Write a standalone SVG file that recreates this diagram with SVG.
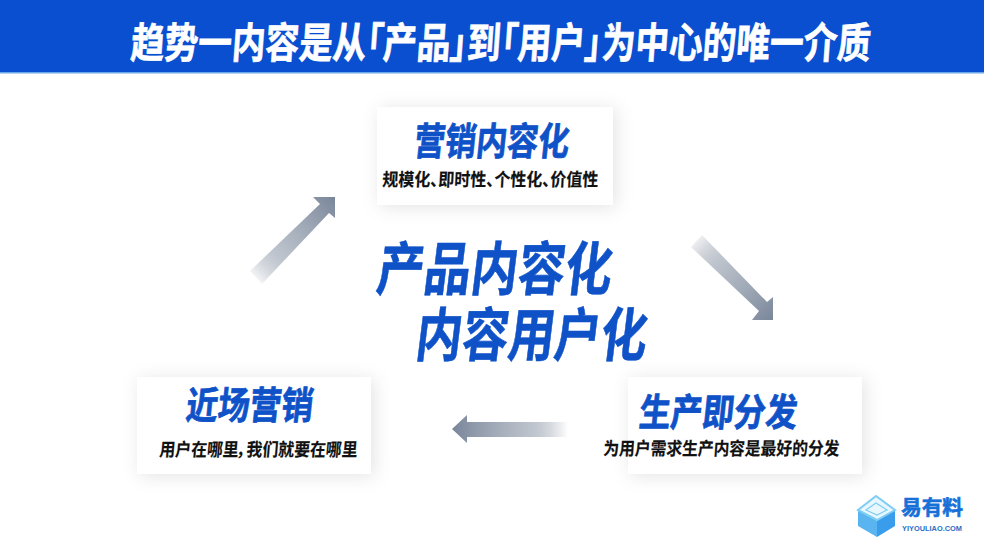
<svg xmlns="http://www.w3.org/2000/svg" width="984" height="554" viewBox="0 0 984 554">
<style>
text{font-family:"Noto Sans CJK SC","Noto Sans",sans-serif;font-weight:700;font-feature-settings:"palt"}
.h{fill:#0f52c8;stroke:#0f52c8}
.s{fill:#111;font-size:18px;stroke:#111;stroke-width:.15}
.t{font-size:38px;stroke-width:.8}
.c{font-size:58px;stroke-width:.6}
.card{fill:#fff;filter:url(#sh)}
</style>
<defs>
<filter id="sh" x="-20%" y="-30%" width="140%" height="160%"><feDropShadow dx="3" dy="2" stdDeviation="9" flood-color="#000" flood-opacity=".11"/></filter>
<linearGradient id="a1" gradientUnits="userSpaceOnUse" x1="252" y1="280" x2="335" y2="197"><stop offset="0" stop-color="#7b8799" stop-opacity="0"/><stop offset=".3" stop-color="#a9b1bd" stop-opacity=".75"/><stop offset="1" stop-color="#79869a"/></linearGradient>
<linearGradient id="a2" gradientUnits="userSpaceOnUse" x1="692" y1="236" x2="773" y2="320"><stop offset="0" stop-color="#7b8799" stop-opacity="0"/><stop offset=".3" stop-color="#a9b1bd" stop-opacity=".75"/><stop offset="1" stop-color="#79869a"/></linearGradient>
<linearGradient id="a3" gradientUnits="userSpaceOnUse" x1="568" y1="0" x2="452" y2="0"><stop offset="0" stop-color="#7b8799" stop-opacity="0"/><stop offset=".3" stop-color="#a9b1bd" stop-opacity=".75"/><stop offset="1" stop-color="#79869a"/></linearGradient>
</defs>
<rect width="984" height="554" fill="#fff"/>
<g id="header">
<rect width="984" height="72" fill="#0a4fd0"/>
<rect y="72" width="984" height="1.5" fill="#6aa8ea"/>
<text transform="translate(130,58) skewX(-4)" font-size="42" fill="#fff" stroke="#fff" stroke-width=".7" textLength="740" lengthAdjust="spacingAndGlyphs">趋势一内容是从「产品」到「用户」为中心的唯一介质</text>
</g>
<g id="connectors">
<polygon points="335,197 313,197 320,204 250,271 262,284 329,213 335,218" fill="url(#a1)"/>
<polygon points="773,320 752,320 759,311 691,247 702,235 767,302 773,297" fill="url(#a2)"/>
<polygon points="452,429 467,415 467,422 568,422 568,437 467,437 467,443" fill="url(#a3)"/>
</g>
<g id="node-top">
<rect class="card" x="377" y="107" width="236" height="98"/>
<text class="h t" transform="translate(413,155) skewX(-6)" textLength="155" lengthAdjust="spacingAndGlyphs">营销内容化</text>
<text class="s" transform="translate(382,186) skewX(-3)" textLength="216" lengthAdjust="spacingAndGlyphs">规模化、即时性、个性化、价值性</text>
</g>
<g id="node-left">
<rect class="card" x="137" y="377" width="234" height="97"/>
<text class="h t" transform="translate(185,419) skewX(-6)" textLength="127" lengthAdjust="spacingAndGlyphs">近场营销</text>
<text class="s" transform="translate(159,456) skewX(-5)" textLength="198" lengthAdjust="spacingAndGlyphs">用户在哪里，我们就要在哪里</text>
</g>
<g id="node-right">
<rect class="card" x="628" y="377" width="234" height="97"/>
<text class="h t" transform="translate(638,426) skewX(-6)" textLength="158" lengthAdjust="spacingAndGlyphs">生产即分发</text>
<text class="s" transform="translate(603,455) skewX(-4)" textLength="236" lengthAdjust="spacingAndGlyphs">为用户需求生产内容是最好的分发</text>
</g>
<g id="node-center">
<text class="h c" transform="translate(375,290) skewX(-7)" textLength="235" lengthAdjust="spacingAndGlyphs">产品内容化</text>
<text class="h c" transform="translate(414,356) skewX(-7)" textLength="231" lengthAdjust="spacingAndGlyphs">内容用户化</text>
</g>
<g id="logo">
<polygon points="858,510 877,520 877,537 858,526" fill="#59b4f0"/>
<polygon points="877,520 895,510 895,526 877,537" fill="#3a9dec"/>
<polygon points="858,510 876,496 895,510 877,520" fill="#e8f7fd" stroke="#7fcdf2" stroke-width="2"/>
<polygon points="866,510 876,503 887,510 877,515" fill="none" stroke="#7fcdf2" stroke-width="1.2"/>
<text x="901" y="515" font-size="20" fill="#1670d8" stroke="#1670d8" stroke-width=".6" textLength="62" lengthAdjust="spacingAndGlyphs">易有料</text>
<text x="902" y="531" font-size="7" fill="#2a6fc4" style="font-family:'Liberation Sans',sans-serif" textLength="60" lengthAdjust="spacingAndGlyphs">YIYOULIAO.COM</text>
</g>
</svg>
